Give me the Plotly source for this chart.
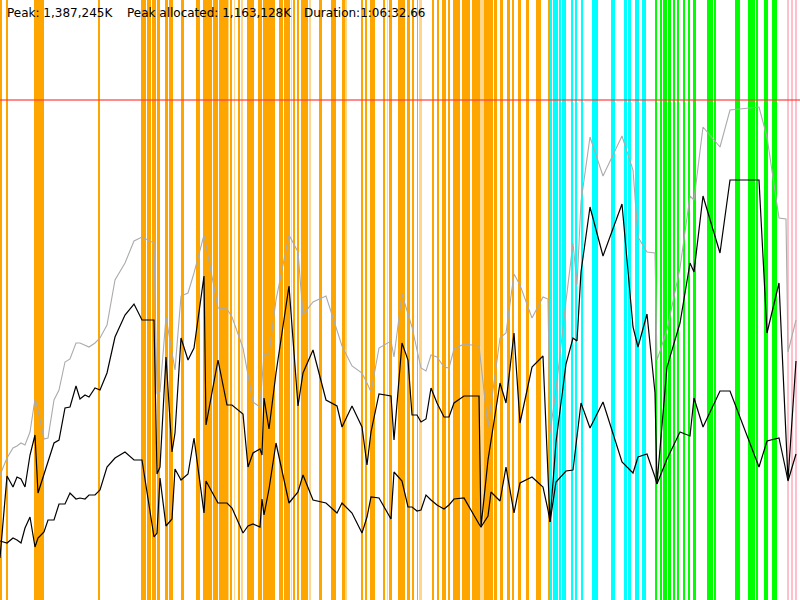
import plotly.graph_objects as go

# sample times (px along the time axis) and the three memory curves
t = [0, 7, 13, 17, 21, 25, 30, 35, 38, 44, 48, 54, 59, 65, 70, 76, 80, 85, 89, 95,
     100, 107, 115, 125, 134, 142, 154, 157, 160, 166, 172, 175, 181, 188, 194, 204,
     206, 218, 227, 232, 243, 248, 253, 260, 262, 264, 269, 276, 289, 298, 303, 313,
     326, 337, 342, 352, 362, 367, 371, 379, 391, 394, 402, 408, 412, 417, 421, 426,
     431, 437, 444, 449, 454, 464, 479, 481, 488, 491, 500, 506, 514, 520, 532, 543,
     548, 550, 556, 566, 573, 577, 581, 590, 603, 622, 633, 638, 647, 655, 657, 667,
     680, 690, 694, 703, 720, 730, 759, 767, 779, 786, 788, 796]

heap = [125, 142, 152, 154, 157, 155, 168, 201, 190, 161, 162, 200, 210, 238, 241, 257, 257, 255, 253, 257,
        262, 275, 320, 337, 359, 363, 357, 206, 208, 283, 250, 230, 304, 307, 327, 365,
        355, 292, 291, 283, 252, 225, 198, 193, 220, 246, 246, 300, 365, 348, 285, 298,
        304, 271, 254, 234, 227, 217, 208, 252, 259, 243, 306, 286, 273, 250, 232, 229,
        245, 243, 233, 232, 251, 256, 254, 236, 173, 195, 262, 267, 326, 315, 282, 303,
        301, 167, 210, 299, 357, 315, 398, 463, 424, 464, 430, 363, 348, 347, 240, 270,
        332, 404, 400, 473, 453, 490, 493, 463, 382, 381, 248, 280]

used_before = [42, 124, 113, 123, 121, 113, 145, 165, 107, 125, 138, 157, 160, 192, 193, 214, 201, 205, 203, 212,
               210, 227, 263, 285, 296, 280, 280, 126, 133, 243, 148, 167, 262, 240, 252, 324,
               175, 240, 195, 195, 186, 133, 147, 151, 145, 202, 171, 227, 314, 194, 227, 250,
               200, 194, 173, 194, 173, 135, 168, 206, 204, 160, 257, 240, 185, 185, 178, 181,
               212, 197, 183, 183, 197, 204, 204, 73, 140, 159, 217, 197, 267, 177, 233, 244,
               134, 78, 158, 236, 262, 259, 328, 393, 344, 396, 273, 253, 286, 207, 116, 233,
               277, 337, 328, 404, 347, 420, 420, 267, 317, 165, 120, 239]

used_after = [59, 57, 62, 60, 57, 72, 83, 53, 62, 68, 80, 80, 96, 96, 107, 101, 102, 101, 105, 105,
              110, 133, 142, 148, 140, 140, 63, 67, 122, 74, 81, 131, 120, 126, 162, 87,
              119, 97, 97, 92, 67, 74, 76, 73, 101, 85, 111, 157, 97, 108, 125, 100,
              97, 87, 97, 87, 67, 83, 103, 102, 81, 128, 119, 93, 93, 89, 90, 105,
              100, 95, 91, 95, 101, 102, 76, 73, 84, 108, 99, 133, 87, 117, 123, 113,
              90, 78, 118, 129, 130, 163, 197, 172, 198, 138, 127, 143, 146, 123, 116, 141,
              168, 164, 202, 173, 209, 209, 133, 159, 162, 129, 119, 146]

peak_level = 500

# collection events: start, end, kind  (o young, p young pale, c mixed, g full, k remark)
gc_start = [0, 6, 34, 98, 141, 147, 152, 157, 165, 169,
            181, 196, 203, 212.5, 219, 228, 230, 233.5, 238, 241,
            247, 258, 263, 279, 284, 291, 292.5, 297, 301, 309,
            319, 331, 342, 344.5, 361, 365, 370, 383, 386.5, 389,
            398, 407, 412, 417, 419, 432, 437, 442, 448, 453,
            462, 472, 480, 484, 494, 500, 507, 512, 518, 526,
            536, 548,
            550, 553, 558.5, 561.5, 564.5, 571, 575, 581, 592, 611,
            624, 627.5, 635, 642,
            655, 660, 663, 667.5, 673, 677, 683, 688, 693, 707,
            714, 735, 748, 756, 764, 772,
            787, 791, 795]
gc_end = [2, 8, 44, 99.5, 146, 151, 156, 160, 168, 172.5,
          184, 200, 212, 218, 228, 229, 232, 235, 240, 243,
          254, 262, 275, 283, 290, 292, 295, 299, 308, 311,
          321.5, 336, 344.5, 347, 363, 367, 375, 385, 388, 392,
          405, 410, 414, 418, 422, 434, 439, 446, 450, 460,
          470, 480, 484, 493, 497, 503, 509.5, 514, 521, 528.5,
          541, 549.5,
          551.5, 558, 561, 563.5, 566, 573, 577, 583, 598, 615,
          627, 631, 639, 646,
          656.5, 662, 667, 671, 675, 678.5, 685, 690, 696, 713,
          716, 740, 755, 758, 768, 777,
          788.5, 793, 797]
gc_kind = ["o", "o", "o", "o", "o", "o", "o", "o", "o", "o",
           "o", "o", "o", "o", "o", "p", "o", "p", "o", "p",
           "o", "o", "o", "o", "o", "p", "o", "o", "o", "p",
           "o", "o", "o", "p", "o", "o", "o", "o", "p", "o",
           "o", "o", "o", "o", "p", "o", "o", "o", "o", "o",
           "o", "o", "p", "o", "o", "o", "o", "o", "o", "o",
           "o", "o",
           "c", "c", "c", "c", "c", "c", "c", "c", "c", "c",
           "c", "c", "c", "c",
           "g", "g", "g", "g", "g", "g", "g", "g", "g", "g",
           "g", "g", "g", "g", "g", "g",
           "k", "k", "k"]

kind_colors = {
    "o": "#FFA500",
    "p": "rgba(255,165,0,0.45)",
    "c": "#00FFFF",
    "g": "#00FF00",
    "k": "#FFC0CB",
}

fig = go.Figure()

for kind, col in kind_colors.items():
    idx = [i for i, k in enumerate(gc_kind) if k == kind]
    fig.add_trace(go.Bar(
        x=[(gc_start[i] + gc_end[i]) / 2 for i in idx],
        y=[600] * len(idx),
        width=[gc_end[i] - gc_start[i] for i in idx],
        marker=dict(color=col, line=dict(width=0)),
        hoverinfo="skip"))

fig.add_trace(go.Scatter(x=t, y=heap, mode="lines",
                         line=dict(color="#ABABAB", width=1.1)))
fig.add_trace(go.Scatter(x=t, y=used_before, mode="lines",
                         line=dict(color="black", width=1.2)))
fig.add_trace(go.Scatter(x=t, y=used_after, mode="lines",
                         line=dict(color="black", width=1.2)))
fig.add_trace(go.Scatter(x=[0, 800], y=[peak_level, peak_level], mode="lines",
                         line=dict(color="rgba(255,60,60,0.8)", width=1.6)))

labels = [("Peak: 1,387,245K", 5), ("Peak allocated: 1,163,128K", 125),
          ("Duration:1:06:32.66", 302)]
for txt, px in labels:
    fig.add_annotation(x=px, y=587, xref="x", yref="y", text=txt,
                       xanchor="left", yanchor="middle", showarrow=False,
                       font=dict(family="DejaVu Sans", size=12, color="black"))

fig.update_xaxes(range=[0, 800], visible=False)
fig.update_yaxes(range=[0, 600], visible=False)
fig.update_layout(
    width=800, height=600,
    margin=dict(l=0, r=0, t=0, b=0),
    plot_bgcolor="white", paper_bgcolor="white",
    showlegend=False, barmode="overlay", bargap=0)

# drop the page's default body margin so the chart sits at the window corner
fig.write_html("out.html",
               config={"displayModeBar": False},
               post_script="document.body.style.margin='0';document.body.style.overflow='hidden';")
